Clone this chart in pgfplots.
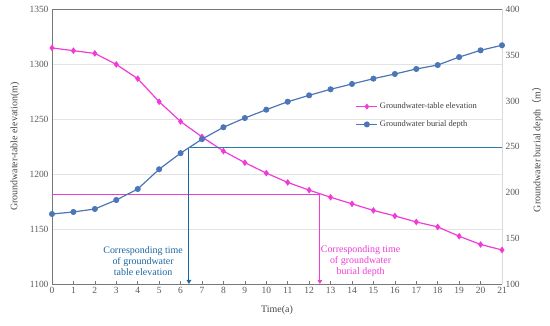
\documentclass[border=0pt]{standalone}
\usepackage{fontspec}
\setmainfont{Liberation Serif}
\newfontfamily\cjk{Noto Sans CJK SC}
\usepackage{pgfplots}
\pgfplotsset{compat=1.18}
\usetikzlibrary{arrows.meta}
\definecolor{pinkc}{RGB}{240,60,215}
\definecolor{bluec}{RGB}{76,118,183}
\definecolor{refblue}{RGB}{28,102,162}
\definecolor{refblueh}{RGB}{45,120,170}
\definecolor{tickgray}{RGB}{89,89,89}
\definecolor{axgray}{RGB}{120,120,120}
\begin{document}
\begin{tikzpicture}
\path[use as bounding box] (-52bp,-42bp) rectangle (498bp,284bp);
\begin{axis}[
  at={(0,0)}, anchor=south west, scale only axis,
  width=450bp, height=274.5bp,
  xmin=0, xmax=21, ymin=1100, ymax=1350,
  xtick={0,...,21}, ytick={1100,1150,...,1350},
  ymajorgrids, grid style={draw=gray!22, line width=0.6bp},
  axis line style={draw=none},
  xtick pos=bottom, ytick pos=left,
  tick align=inside,
  x tick style={draw=axgray, line width=0.6bp},
  major tick length=3bp,
  y tick style={draw=none},
  /pgf/number format/assume math mode=true,
  /pgf/number format/set thousands separator={},
  ticklabel style={font=\fontsize{9.5}{11}\selectfont, text=tickgray},
  xlabel={Time(a)},
  xlabel style={font=\fontsize{10}{12}\selectfont, text=tickgray!80!black, at={(axis description cs:0.5,0)}, yshift=-26bp, anchor=center},
  ylabel={Groundwater-table elevation(m)},
  ylabel style={font=\fontsize{10}{12}\selectfont, text=tickgray!80!black, at={(axis description cs:-0.082,0.5)}, anchor=center},
  clip=false,
]
\draw[axgray, line width=0.9bp] (rel axis cs:0,1) -- (rel axis cs:0,0) -- (rel axis cs:1,0);
\draw[axgray, line width=1.1bp] (rel axis cs:0,1) -- (rel axis cs:1,1);
\draw[gray!30, line width=0.6bp] (rel axis cs:1,0) -- (rel axis cs:1,1);
\addplot[pinkc, line width=0.9bp, -{Triangle[width=4.5bp,length=4bp]}] coordinates {(0,1182) (12.5,1182) (12.5,1100)};
\addplot[pinkc, line width=1.2bp, mark=diamond*, mark size=2.4bp] coordinates {
(0,1315) (1,1312.5) (2,1310) (3,1300) (4,1287) (5,1266) (6,1248) (7,1234)
(8,1221) (9,1210.5) (10,1201) (11,1192.5) (12,1185.5) (13,1179) (14,1173)
(15,1167) (16,1162) (17,1156.5) (18,1152) (19,1143.5) (20,1136) (21,1131)};
\node[align=center, text=refblue, font=\fontsize{10}{11.3}\selectfont] at (axis cs:4.25,1121) {Corresponding time\\of groundwater\\table elevation};
\node[align=center, text=pinkc, font=\fontsize{10}{11.3}\selectfont] at (axis cs:14.4,1121) {Corresponding time\\of groundwater\\burial depth};
\end{axis}
\begin{axis}[
  at={(0,0)}, anchor=south west, scale only axis,
  width=450bp, height=274.5bp,
  xmin=0, xmax=21, ymin=100, ymax=400,
  ytick={100,150,...,400},
  axis line style={draw=none},
  hide x axis,
  ytick pos=right,
  y tick style={draw=none},
  /pgf/number format/assume math mode=true,
  ticklabel style={font=\fontsize{9.5}{11}\selectfont, text=tickgray},
  ylabel={Groundwater burial depth{\cjk （}m{\cjk ）}},
  ylabel style={font=\fontsize{10}{12}\selectfont, text=tickgray!80!black, at={(axis description cs:1.078,0.5)}, anchor=center},
  clip=false,
  legend style={at={(rel axis cs:0.668,0.675)}, anchor=north west, draw=none, fill=none,
    font=\fontsize{8.5}{10}\selectfont, text=tickgray!70!black, row sep=6.5bp,
    /tikz/every even column/.append style={column sep=1bp}},
  legend cell align=left,
  legend image code/.code={\draw[mark repeat=2, mark phase=2, #1] plot coordinates {(0bp,0bp) (10.5bp,0bp) (21bp,0bp)};},
]
\addlegendimage{pinkc, line width=1.2bp, mark=diamond*, mark size=2.1bp}
\addlegendentry{Groundwater-table elevation}
\addplot[refblueh, line width=1bp, forget plot] coordinates {(21,249) (6.39,249)};
\addplot[refblue, line width=1.1bp, -{Triangle[width=4.5bp,length=4bp]}, forget plot] coordinates {(6.39,249) (6.39,100)};
\addplot[bluec, line width=1.2bp, mark=*, mark size=2.4bp] coordinates {
(0,176.5) (1,178.7) (2,182) (3,191.8) (4,203.8) (5,225.4) (6,243) (7,258.3)
(8,271.3) (9,281.4) (10,290.5) (11,299.2) (12,306.2) (13,312.8) (14,318.6)
(15,324.4) (16,329.5) (17,335) (18,339.3) (19,348) (20,355.4) (21,360.9)};
\addlegendentry{Groundwater burial depth}
\end{axis}
\end{tikzpicture}
\end{document}
